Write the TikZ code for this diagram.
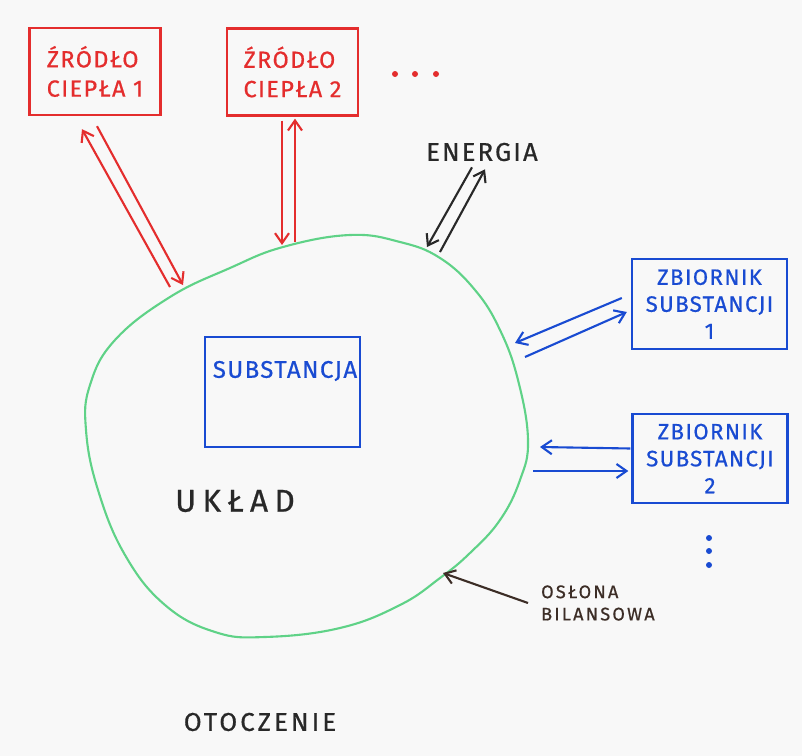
\documentclass[tikz,border=0pt]{standalone}
\usepackage{fontspec}
\setmainfont{Fira Sans}[LetterSpace=6, FakeBold=0.6]
\usetikzlibrary{arrows.meta,positioning,calc}
\definecolor{penred}{RGB}{228,45,45}
\definecolor{penblue}{RGB}{25,75,210}
\definecolor{pengreen}{RGB}{95,210,135}
\definecolor{penblack}{RGB}{40,40,40}
\definecolor{penbrown}{RGB}{60,45,38}
\definecolor{paper}{RGB}{248,248,248}

\begin{document}
\begin{tikzpicture}[
    x=0.03cm, y=-0.03cm,
    hand/.style={font=\fontsize{19}{23}\selectfont},
    redbox/.style={draw=penred, line width=2pt, minimum width=3.93cm, minimum height=2.61cm, text=penred, align=left, hand},
    bluebox/.style={draw=penblue, line width=2pt, minimum width=4.65cm, text=penblue, align=center, hand},
    flow/.style={-{Straight Barb[length=3mm,width=4.2mm]}, line width=1.8pt},
    label/.style={text=penblack, hand}
  ]
  \fill[paper] (0,0) rectangle (802,756);
  \useasboundingbox (0,0) rectangle (802,756);

  % Heat sources
  \node[redbox, font=\fontsize{20}{25}\selectfont] (src1) at (95,71.5) {ŹRÓDŁO\\CIEPŁA 1};
  \node[redbox, font=\fontsize{20}{25}\selectfont] (src2) at (292.5,72) {ŹRÓDŁO\\CIEPŁA 2};
  \foreach \x in {395,415,436}
    \fill[penred] (\x,74) circle (3);

  % System boundary
  \draw[pengreen, line width=1.8pt] plot[smooth cycle, tension=0.7] coordinates {
    (170,297) (230,268) (283,247) (350,235) (400,242) (440,258) (475,290)
    (500,330) (518,380) (528,440) (520,480) (500,520) (470,553) (440,578)
    (400,605) (340,628) (265,637) (215,632) (165,605) (125,555) (98,490)
    (86,430) (90,385) (115,340)};
  \coordinate (wall1a) at (170,287);
  \coordinate (wall1b) at (183,285);
  \coordinate (wall2a) at (282,245);
  \coordinate (wall2b) at (295,242);
  \coordinate (wall3a) at (515,343);
  \coordinate (wall3b) at (525,357);
  \coordinate (wall4a) at (540,447);
  \coordinate (wall4b) at (533,471);
  \coordinate (wallen) at (427,247);
  \coordinate (wallen2) at (440,252);
  \coordinate (wall5) at (443,573);

  % Substance inside
  \node[bluebox, minimum height=3.3cm] (sub) at (282.5,392) {};
  \node[bluebox, draw=none, inner sep=0pt, font=\fontsize{20.5}{25}\selectfont] (subtext) at (285,371) {SUBSTANCJA};

  % Reservoirs
  \node[bluebox, minimum height=2.7cm] (res1) at (709.5,304) {ZBIORNIK\\SUBSTANCJI\\1};
  \node[bluebox, minimum height=2.67cm] (res2) at (710,458.5) {ZBIORNIK\\SUBSTANCJI\\2};
  \foreach \y in {538,551,565}
    \fill[penblue] (709,\y) circle (3);

  % Labels
  \node[label, font=\fontsize{22}{26}\selectfont\addfontfeature{LetterSpace=8}] (energy) at (482,152) {ENERGIA};
  \node[label, font=\fontsize{27}{31}\selectfont\addfontfeature{LetterSpace=20}] (uklad) at (235,501) {UKŁAD};
  \node[label, font=\fontsize{22}{26}\selectfont\addfontfeature{LetterSpace=12}] (otoczenie) at (260,722) {OTOCZENIE};
  \node[label, text=penbrown, align=left, anchor=west, font=\fontsize{15.5}{19}\selectfont\addfontfeature{LetterSpace=12}] (oslona) at (537,603) {OSŁONA\\BILANSOWA};

  % Flows
  \draw[flow, penred] (wall1a) -- ($(src1.south)+(-13,13)$);
  \draw[flow, penred] ($(src1.south)+(2,10)$) -- (wall1b);
  \draw[flow, penred] ($(src2.south)+(-10.5,4)$) -- (wall2a);
  \draw[flow, penred] (wall2b) -- ($(src2.south)+(2.5,2)$);
  \draw[flow, penblack] ($(energy.south)+(-10,2)$) -- (wallen);
  \draw[flow, penblack] (wallen2) -- ($(energy.south)+(3,4)$);
  \draw[flow, penblue] ($(res1.west)+(-9,-6)$) -- (wall3a);
  \draw[flow, penblue] (wall3b) -- ($(res1.west)+(-4,8)$);
  \draw[flow, penblue] ($(res2.west)+(-1,-10)$) -- (wall4a);
  \draw[flow, penblue] (wall4b) -- ($(res2.west)+(-3,12.5)$);
  \draw[flow, penbrown] ($(oslona.west)+(-9,0)$) -- (wall5);
\end{tikzpicture}
\end{document}
